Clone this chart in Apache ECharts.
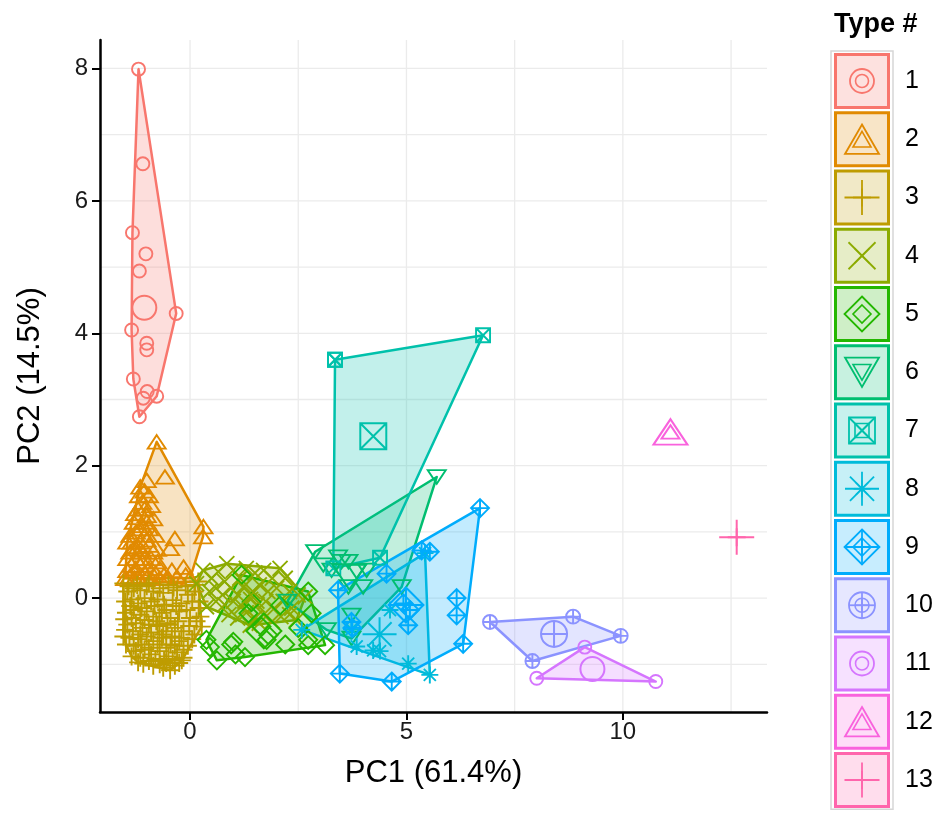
<!DOCTYPE html>
<html><head><meta charset="utf-8">
<script src="https://cdn.jsdelivr.net/npm/echarts@6/dist/echarts.min.js"></script>
<style>html,body{margin:0;padding:0;background:#fff}#c{width:942px;height:818px}</style>
</head><body><div id="c"></div>
<script>
const typeNames = ['1','2','3','4','5','6','7','8','9','10','11','12','13'];
const typeColors = ['#F8766D','#E18A00','#BE9C00','#8CAB00','#24B700','#00BE70','#00C1AB','#00BBDA','#00ACFC','#8B93FF','#D575FE','#F962DD','#FF65AC'];
const typeShapes = ['circle','triUp','plus','cross','diamond','triDown','sqX','asterisk','diamondPlus','circlePlus','circle','triUp','plus'];

const type1 = [[-1.19,7.99],[-1.09,6.56],[-1.33,5.52],[-1.02,5.20],[-1.17,4.94],[-0.32,4.30],[-1.35,4.05],[-1.0,3.85],[-1.0,3.75],[-1.31,3.31],[-0.99,3.12],[-0.77,3.05],[-1.08,3.02],[-1.17,2.74]];
const type2 = [[-0.77,2.36],[-0.58,1.83],[0.31,1.08],[0.30,0.93],[0.0,0.30],[-1.50,0.30],[-1.45,0.85],[-1.27,1.28],[-1.15,1.68],[-1.0,1.78],
 [-1.05,1.62],[-0.95,1.55],[-1.1,1.45],[-0.9,1.4],[-1.2,1.35],[-1.0,1.25],[-0.85,1.2],[-1.3,1.15],[-1.1,1.1],[-0.95,1.05],[-1.25,1.0],[-1.05,0.95],[-0.8,0.95],[-1.35,0.85],[-1.15,0.85],[-0.95,0.8],[-0.35,0.90],[-0.46,0.75],[-1.3,0.75],[-1.1,0.7],[-0.85,0.7],[-1.25,0.6],[-1.05,0.6],[-0.75,0.55],[-1.35,0.5],[-1.15,0.5],[-0.95,0.45],[-0.15,0.47],[-0.42,0.42],[-1.3,0.4],[-1.05,0.38],[-0.8,0.38],[-0.6,0.35],[-1.4,0.32],[-1.2,0.3],[-0.3,0.32],[-0.1,0.35],
 [-1.45,0.6],[-1.38,0.7],[-1.2,0.78],[-1.0,0.88],[-0.9,0.6],[-1.25,0.45],[-1.1,0.55],[-0.9,0.3],[-1.38,0.95],[-1.15,1.05],[-1.0,1.15],[-1.22,1.22],[-1.05,1.35],[-1.18,1.55],[-1.28,0.3],[-1.0,0.3],[-0.7,0.3],[-0.5,0.3],[-1.45,0.42],[-0.7,0.45]];
const type3 = [[-1.54,0.22],[0.19,0.25],[0.27,-0.43],[-0.19,-0.94],[-0.46,-1.09],[-1.08,-0.99],[-1.54,-0.58],
 [-1.45,0.1],[-1.3,0.15],[-1.15,0.12],[-1.0,0.18],[-0.85,0.1],[-0.7,0.15],[-0.5,0.2],[-0.3,0.12],[-0.1,0.18],[0.1,0.1],
 [-1.5,-0.05],[-1.35,-0.02],[-1.2,-0.08],[-1.05,0.0],[-0.9,-0.05],[-0.75,-0.02],[-0.6,-0.1],[-0.4,-0.03],[-0.2,-0.08],[0.05,-0.05],[0.2,-0.15],
 [-1.48,-0.22],[-1.3,-0.18],[-1.15,-0.25],[-1.0,-0.2],[-0.85,-0.28],[-0.65,-0.22],[-0.45,-0.3],[-0.25,-0.2],[0.0,-0.3],[0.15,-0.35],
 [-1.45,-0.4],[-1.25,-0.38],[-1.1,-0.45],[-0.95,-0.4],[-0.75,-0.42],[-0.55,-0.5],[-0.35,-0.45],[-0.15,-0.5],[0.1,-0.55],
 [-1.4,-0.6],[-1.2,-0.62],[-1.0,-0.58],[-0.85,-0.65],[-0.65,-0.6],[-0.45,-0.7],[-0.25,-0.65],[-0.05,-0.72],
 [-1.25,-0.8],[-1.05,-0.78],[-0.9,-0.85],[-0.7,-0.8],[-0.5,-0.88],[-0.3,-0.82],[-0.15,-0.9],
 [-0.95,-0.95],[-0.7,-1.0],[-0.55,-0.98],[-0.35,-1.02],
 [-1.42,0.18],[-1.22,0.2],[-0.95,0.22],[-0.62,0.08],[-0.38,0.16],[-0.05,0.05],[0.12,0.2],
 [-1.38,-0.12],[-1.12,-0.15],[-0.82,-0.12],[-0.55,-0.18],[-0.32,-0.12],[-0.08,-0.18],[0.22,-0.05],
 [-1.52,-0.32],[-1.35,-0.3],[-1.05,-0.33],[-0.78,-0.35],[-0.52,-0.38],[-0.28,-0.35],[-0.02,-0.42],[0.24,-0.28],
 [-1.5,-0.48],[-1.32,-0.5],[-1.15,-0.55],[-0.9,-0.52],[-0.62,-0.55],[-0.42,-0.58],[-0.2,-0.6],[0.05,-0.62],
 [-1.48,-0.7],[-1.3,-0.72],[-1.12,-0.7],[-0.95,-0.75],[-0.75,-0.7],[-0.55,-0.75],[-0.35,-0.72],[-0.15,-0.78],
 [-1.35,-0.88],[-1.15,-0.9],[-0.8,-0.92],[-0.6,-0.95],[-0.4,-0.92],[-0.25,-0.98],
 [-1.2,-0.97],[-0.85,-1.02],[-0.62,-1.05]];
const type4 = [[0.15,0.22],[0.30,0.42],[0.85,0.52],[2.08,0.45],[2.66,0.02],[2.46,-0.33],[1.39,-0.41],[0.38,-0.13],
 [0.5,0.3],[0.65,0.4],[0.8,0.25],[1.0,0.42],[1.15,0.3],[1.3,0.45],[1.5,0.38],[1.7,0.42],[1.9,0.3],[2.2,0.3],
 [0.45,0.1],[0.6,0.15],[0.75,0.05],[0.95,0.15],[1.1,0.05],[1.25,0.18],[1.45,0.1],[1.6,0.2],[1.8,0.1],[2.0,0.15],[2.3,0.1],[2.5,0.05],
 [0.6,-0.05],[0.8,-0.1],[1.0,-0.05],[1.2,-0.12],[1.4,-0.02],[1.55,-0.1],[1.75,-0.05],[1.95,-0.15],[2.15,-0.05],[2.35,-0.15],
 [0.9,-0.25],[1.1,-0.3],[1.3,-0.22],[1.5,-0.3],[1.7,-0.25],[1.9,-0.35],[2.1,-0.28],[2.3,-0.25],[1.6,-0.38]];
const type5 = [[1.19,0.35],[2.73,0.10],[3.12,-0.71],[0.62,-0.94],[0.38,-0.63],[1.0,-0.66],[1.27,-0.89],[1.65,-0.43],[1.81,-0.56],[1.35,-0.23],[2.08,-0.11],[2.73,-0.71],[2.81,-0.23],[1.42,-0.06],[1.77,-0.63],[0.46,-0.74],[2.73,-0.63],[0.95,-0.7],[2.5,-0.45],[1.05,-0.85],[2.2,-0.7]];
const type6 = [[5.70,1.83],[2.89,0.70],[3.42,0.62],[3.66,0.55],[3.08,0.50],[3.85,0.40],[3.27,0.42],[4.89,0.17],[3.66,0.17],[3.73,-0.26],[3.73,-0.61],[3.16,-0.48],[4.08,0.42],[2.25,-0.05],[3.5,0.55],[4.0,0.17]];
const type7 = [[3.35,3.60],[3.35,3.60],[6.77,3.97],[4.39,0.61],[3.31,0.45]];
const type8 = [[2.58,-0.48],[3.85,-0.73],[4.23,-0.79],[4.62,-0.18],[5.04,-0.99],[5.54,-1.16],[5.43,0.68],[4.39,-0.80],[3.73,-0.47]];
const type9 = [[5.54,0.70],[5.35,0.72],[4.54,0.37],[3.42,0.12],[5.08,-0.18],[4.93,-0.08],[5.04,-0.41],[6.16,0.0],[6.16,-0.26],[6.31,-0.69],[3.73,-0.36],[3.75,-0.45],[3.46,-1.14],[4.66,-1.26],[6.70,1.36]];
const type10 = [[6.93,-0.36],[8.85,-0.28],[9.95,-0.57],[7.91,-0.95]];
const type11 = [[9.12,-0.74],[8.01,-1.21],[10.76,-1.26]];
const type12 = [[11.10,2.51]];
const type13 = [[12.63,0.92]];
const allTypes = [type1,type2,type3,type4,type5,type6,type7,type8,type9,type10,type11,type12,type13];

const xTickLabels = [0,5,10];
const yTickLabels = [0,2,4,6,8];
const xGridValues = [0,2.5,5,7.5,10,12.5];
const yGridValues = [-1,0,1,2,3,4,5,6,7,8];
const X_MIN=-2.08, X_MAX=13.33, Y_MIN=-1.72, Y_MAX=8.43;

const shapeDefs = {
  circle: {circle:true, lines:[]},
  triUp: {lines:[[[[5,0],[10,8.66],[0,8.66]],true]]},
  plus: {lines:[[[[5,0],[5,10]],false],[[[0,5],[10,5]],false]]},
  cross: {lines:[[[[0,0],[10,10]],false],[[[10,0],[0,10]],false]]},
  diamond: {lines:[[[[5,0],[10,5],[5,10],[0,5]],true]]},
  triDown: {lines:[[[[0,0],[10,0],[5,8.66]],true]]},
  sqX: {lines:[[[[0,0],[10,0],[10,10],[0,10]],true],[[[0,0],[10,10]],false],[[[10,0],[0,10]],false]]},
  asterisk: {lines:[[[[5,0],[5,10]],false],[[[0,5],[10,5]],false],[[[1.46,1.46],[8.54,8.54]],false],[[[8.54,1.46],[1.46,8.54]],false]]},
  diamondPlus: {lines:[[[[5,0],[10,5],[5,10],[0,5]],true],[[[5,0],[5,10]],false],[[[0,5],[10,5]],false]]},
  circlePlus: {circle:true, lines:[[[[5,0],[5,10]],false],[[[0,5],[10,5]],false]]}
};
const smallSize = {circle:[13,13],triUp:[18,15.6],plus:[18,18],cross:[15,15],diamond:[18,18],triDown:[18,15.6],sqX:[14,14],asterisk:[17,17],diamondPlus:[18,18],circlePlus:[14,14]};
const bigSize = {circle:[24,24],triUp:[34,29.4],plus:[35,35],cross:[27,27],diamond:[35,35],triDown:[34,29.4],sqX:[26,26],asterisk:[34,34],diamondPlus:[35,35],circlePlus:[26,26]};

function shapePath(name){
  const d=shapeDefs[name]; let s='';
  if(d.circle) s+='M0,5A5,5 0 1,1 10,5A5,5 0 1,1 0,5Z';
  d.lines.forEach(([pts,closed])=>{ s+='M'+pts.map(p=>p[0]+','+p[1]).join('L')+(closed?'Z':''); });
  return 'path://'+s;
}
function shapeGraphics(name,cx,cy,sz,color,lw){
  const d=shapeDefs[name], out=[];
  const w=sz[0], h=sz[1];
  let maxY=10; if(name==='triUp'||name==='triDown') maxY=8.66;
  const tr=p=>[cx-w/2+p[0]/10*w, cy-h/2+p[1]/maxY*h];
  if(d.circle) out.push({type:'circle',shape:{cx:cx,cy:cy,r:w/2},style:{fill:'none',stroke:color,lineWidth:lw}});
  d.lines.forEach(([pts,closed])=>{
    out.push({type:closed?'polygon':'polyline',shape:{points:pts.map(tr)},style:{fill:'none',stroke:color,lineWidth:lw}});
  });
  return out;
}

function rgba(hex,a){const n=parseInt(hex.slice(1),16);return `rgba(${n>>16},${(n>>8)&255},${n&255},${a})`;}
function hull(pts){
  const p=pts.map(a=>a.slice()).sort((a,b)=>a[0]-b[0]||a[1]-b[1]);
  const cr=(o,a,b)=>(a[0]-o[0])*(b[1]-o[1])-(a[1]-o[1])*(b[0]-o[0]);
  const lo=[];for(const q of p){while(lo.length>=2&&cr(lo[lo.length-2],lo[lo.length-1],q)<=0)lo.pop();lo.push(q);}
  const up=[];for(let i=p.length-1;i>=0;i--){const q=p[i];while(up.length>=2&&cr(up[up.length-2],up[up.length-1],q)<=0)up.pop();up.push(q);}
  lo.pop();up.pop();return lo.concat(up);
}
function mean(pts){let sx=0,sy=0;pts.forEach(p=>{sx+=p[0];sy+=p[1];});return [sx/pts.length,sy/pts.length];}

const FONT='"Liberation Sans", Arial, sans-serif';
const series=[];
series.push({type:'custom',silent:true,z:0,data:[[0,0]],renderItem:(params,api)=>{
  const ch=[];
  xGridValues.forEach(v=>{const a=api.coord([v,Y_MIN]),b=api.coord([v,Y_MAX]);ch.push({type:'line',shape:{x1:a[0],y1:a[1],x2:b[0],y2:b[1]},style:{stroke:'#ebebeb',lineWidth:1.3}});});
  yGridValues.forEach(v=>{const a=api.coord([X_MIN,v]),b=api.coord([X_MAX,v]);ch.push({type:'line',shape:{x1:a[0],y1:a[1],x2:b[0],y2:b[1]},style:{stroke:'#ebebeb',lineWidth:1.3}});});
  return {type:'group',children:ch};
}});
allTypes.forEach((pts,i)=>{
  if(pts.length<3)return;
  const h=hull(pts);
  series.push({type:'custom',silent:true,z:1,data:[mean(pts)],renderItem:(params,api)=>({
    type:'polygon',shape:{points:h.map(p=>api.coord(p))},
    style:{fill:rgba(typeColors[i],0.24),stroke:typeColors[i],lineWidth:2.5,lineJoin:'round'}
  })});
});
allTypes.forEach((pts,i)=>{
  const s=typeShapes[i];
  series.push({type:'scatter',name:typeNames[i],z:3,silent:true,data:pts,symbol:shapePath(s),symbolSize:smallSize[s],symbolKeepAspect:true,
    itemStyle:{color:'rgba(0,0,0,0)',borderColor:typeColors[i],borderWidth:1.9,opacity:1}});
  series.push({type:'scatter',name:typeNames[i]+'c',z:4,silent:true,data:[mean(pts)],symbol:shapePath(s),symbolSize:bigSize[s],symbolKeepAspect:true,
    itemStyle:{color:'rgba(0,0,0,0)',borderColor:typeColors[i],borderWidth:2,opacity:1}});
});

const graphics=[];
const LX=834, LY=53, LSTEP=58.25, LW=56, LH=56;
graphics.push({type:'text',x:834,y:11,style:{text:'Type #',font:'bold 27px '+FONT,fill:'#000'}});
graphics.push({type:'rect',shape:{x:831,y:LY-2,width:LW+6,height:LSTEP*13+1},style:{fill:'none',stroke:'#d6d6d6',lineWidth:1.5}});
typeNames.forEach((nm,i)=>{
  const top=LY+i*LSTEP, c=typeColors[i], s=typeShapes[i];
  const cx=LX+LW/2, cy=top+LH/2;
  graphics.push({type:'rect',shape:{x:LX+1.5,y:top+1.5,width:LW-3,height:LH-3},style:{fill:rgba(c,0.22),stroke:c,lineWidth:3}});
  shapeGraphics(s,cx,cy,smallSize[s],c,1.6).forEach(g=>graphics.push(g));
  shapeGraphics(s,cx,cy,bigSize[s],c,1.8).forEach(g=>graphics.push(g));
  graphics.push({type:'text',x:905,y:cy,style:{text:nm,font:'25px '+FONT,fill:'#000',verticalAlign:'middle',align:'left'}});
});

const chart=echarts.init(document.getElementById('c'),null,{renderer:'canvas'});
chart.setOption({
  animation:false,
  backgroundColor:'#fff',
  grid:{left:100,right:175,top:40,bottom:106,containLabel:false},
  xAxis:{type:'value',min:X_MIN,max:X_MAX,name:'PC1 (61.4%)',nameLocation:'middle',nameGap:46,
    nameTextStyle:{fontSize:31,color:'#000',fontFamily:FONT},
    axisLine:{show:true,onZero:false,lineStyle:{color:'#000',width:2.5}},
    axisTick:{show:true,length:8,lineStyle:{color:'#000',width:2},customValues:xTickLabels},
    axisLabel:{fontSize:24,color:'#1a1a1a',fontFamily:FONT,margin:8,customValues:xTickLabels},
    splitLine:{show:false}},
  yAxis:{type:'value',min:Y_MIN,max:Y_MAX,name:'PC2 (14.5%)',nameLocation:'middle',nameGap:54,nameRotate:90,
    nameTextStyle:{fontSize:31,color:'#000',fontFamily:FONT},
    axisLine:{show:true,onZero:false,lineStyle:{color:'#000',width:2.5}},
    axisTick:{show:true,length:8,lineStyle:{color:'#000',width:2},customValues:yTickLabels},
    axisLabel:{fontSize:24,color:'#1a1a1a',fontFamily:FONT,margin:12,customValues:yTickLabels},
    splitLine:{show:false}},
  series:series,
  graphic:graphics
});
</script></body></html>
